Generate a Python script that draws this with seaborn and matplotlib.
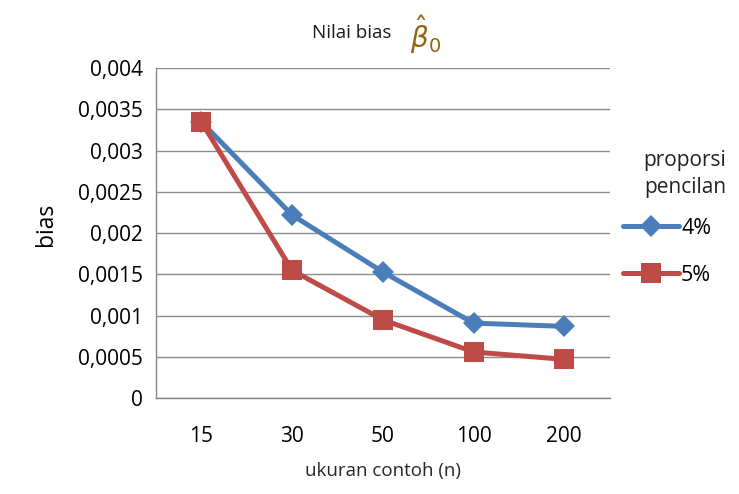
import matplotlib
matplotlib.use("Agg")
import matplotlib.pyplot as plt
import seaborn as sns
import pandas as pd
from matplotlib.ticker import FixedLocator, FuncFormatter

sizes = ["15", "30", "50", "100", "200"]
bias_4 = [0.00335, 0.00222, 0.00153, 0.00091, 0.00087]
bias_5 = [0.00335, 0.00155, 0.00095, 0.00056, 0.00047]
series = ["4%", "5%"]
yticks = [0, 0.0005, 0.001, 0.0015, 0.002, 0.0025, 0.003, 0.0035, 0.004]

df = pd.DataFrame({
    "n": list(range(len(sizes))) * 2,
    "bias": bias_4 + bias_5,
    "prop": [series[0]] * len(sizes) + [series[1]] * len(sizes),
})

sns.set_style("white")
plt.rcParams["font.family"] = ["Open Sans", "DejaVu Sans"]
plt.rcParams["text.color"] = "black"
plt.rcParams["xtick.color"] = "#868686"
plt.rcParams["ytick.color"] = "#868686"
plt.rcParams["xtick.labelcolor"] = "black"
plt.rcParams["ytick.labelcolor"] = "black"

fig = plt.figure(figsize=(7.39, 4.94), dpi=100)
ax = fig.add_axes([0.211, 0.194, 0.614, 0.668])

palette = {"4%": "#4A7EBB", "5%": "#BE4B48"}
markers = {"4%": "D", "5%": "s"}
sizes_m = {"4%": 11, "5%": 14.5}
for s in series:
    sub = df[df["prop"] == s]
    sns.lineplot(data=sub, x="n", y="bias", ax=ax, color=palette[s],
                 marker=markers[s], markersize=sizes_m[s], linewidth=3.6,
                 markeredgewidth=0, label=s, legend=False)

ax.set_xlim(-0.5, len(sizes) - 0.5)
ax.set_ylim(0, 0.004)
ax.yaxis.set_major_locator(FixedLocator(yticks))
ax.yaxis.set_major_formatter(FuncFormatter(
    lambda v, p: "0" if v == 0 else ("%g" % v).replace(".", ",")))
ax.set_xticks(range(len(sizes)))
ax.set_xticklabels(sizes)
ax.set_xticks([i - 0.5 for i in range(len(sizes) + 1)], minor=True)
ax.tick_params(axis="x", which="major", length=0, pad=20, labelsize=15)
ax.tick_params(axis="x", which="minor", length=5, width=1, direction="out")
ax.tick_params(axis="y", length=4.5, width=1, direction="out", labelsize=15, pad=5)
ax.grid(axis="y", color="#8C8C8C", linewidth=1)
ax.set_axisbelow(True)
for sp in ["top", "right"]:
    ax.spines[sp].set_visible(False)
for sp in ["left", "bottom"]:
    ax.spines[sp].set_color("#868686")
    ax.spines[sp].set_linewidth(1)

ax.set_xlabel("ukuran contoh (n)", fontsize=13.5, labelpad=11)
ax.set_ylabel("")
fig.text(46 / 739, 1 - 224 / 494, "bias", rotation=90, fontsize=16.5,
         ha="center", va="center")
fig.text(352 / 739, 1 - 33 / 494, "Nilai bias", fontsize=13.5,
         ha="center", va="center", color="#1a1a1a")
fig.text(425 / 739, 1 - 35 / 494, r"$\boldsymbol{\hat{\beta}_0}$", fontsize=20,
         ha="center", va="center", color="#946212")

handles, labels = ax.get_legend_handles_labels()
leg = fig.legend(handles, labels, title="proporsi\npencilan", loc="upper left",
                 bbox_to_anchor=(623 / 739, 1 - 147 / 494), frameon=False,
                 fontsize=15.5, title_fontsize=15, handlelength=2.6,
                 handletextpad=0.1, labelspacing=1.2, borderaxespad=0,
                 borderpad=0)
leg.get_title().set_alpha(0)
fig.text(726 / 739, 1 - 174 / 494, "proporsi\npencilan", fontsize=15,
         ha="right", va="center", linespacing=1.38, color="#222222")

fig.savefig("out.png", dpi=100)
